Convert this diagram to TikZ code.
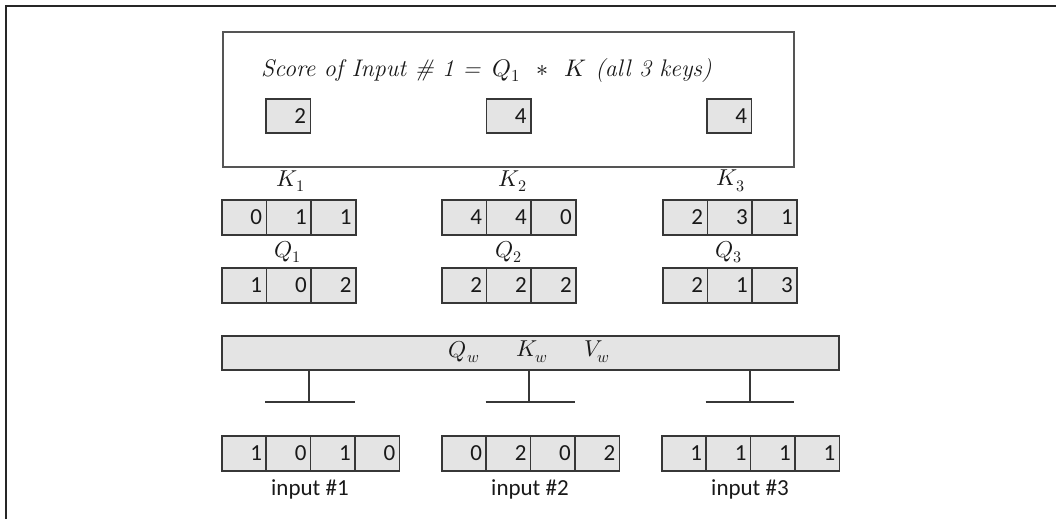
\documentclass[tikz,border=0pt]{standalone}
\usepackage{fontspec}
\usepackage{unicode-math}
\setmathfont{Latin Modern Math}
\newfontfamily\cfont{Carlito}
\definecolor{cellg}{RGB}{228,228,228}
\definecolor{lineg}{RGB}{55,55,55}
\definecolor{boxg}{RGB}{85,85,85}
\definecolor{txtg}{RGB}{25,25,25}
\begin{document}
\begin{tikzpicture}[x=1pt,y=-1pt,
  cell/.style={draw=lineg, line width=1.5pt, fill=cellg, minimum height=35pt,
    text width=36pt, inner xsep=4.3pt, inner ysep=0pt, align=right,
    anchor=north west, text=txtg, font=\cfont\fontsize{23}{23}\selectfont},
  mlab/.style={inner sep=0pt, text=txtg, font=\fontsize{23}{23}\selectfont},
  inlab/.style={inner sep=0pt, text=txtg, font=\cfont\fontsize{23}{23}\selectfont},
  tline/.style={draw=lineg, line width=1.6pt}]
\useasboundingbox (0,0) rectangle (1056,519);
% page frame
\draw[line width=1.6pt, black!85] (6,519) -- (6,6) -- (1056,6);
% score box
\node[draw=boxg, line width=2pt, minimum width=571pt, minimum height=135pt,
  inner sep=0pt, anchor=north west] (scorebox) at (222,31) {};
\node[inner sep=0pt, anchor=base west, text=txtg, font=\fontsize{24}{24}\selectfont]
  (scoretxt) at (261,76)
  {\itshape Score of Input \# 1 = \hspace{4pt}$Q_1$\hspace{16pt}$*$\hspace{16pt}$K$ (all 3 keys)};
\node[cell, minimum height=34pt] (s1) at (265,98) {2};
\node[cell, minimum height=34pt] (s2) at (485.5,98) {4};
\node[cell, minimum height=34pt] (s3) at (706,98) {4};
% K labels and rows
\node[mlab] (klab1) at (291,181) {$K_1$};
\node[mlab] (klab2) at (513,181) {$K_2$};
\node[mlab] (klab3) at (731,181) {$K_3$};
\foreach \v [count=\i] in {0,1,1} \node[cell] (ka\i) at ({221+(\i-1)*44.8},199) {\v};
\foreach \v [count=\i] in {4,4,0} \node[cell] (kb\i) at ({441+(\i-1)*44.8},199) {\v};
\foreach \v [count=\i] in {2,3,1} \node[cell] (kc\i) at ({662+(\i-1)*44.8},199) {\v};
% Q labels and rows
\node[mlab] (qlab1) at (288,252) {$Q_1$};
\node[mlab] (qlab2) at (509,252) {$Q_2$};
\node[mlab] (qlab3) at (729,252) {$Q_3$};
\foreach \v [count=\i] in {1,0,2} \node[cell] (qa\i) at ({221+(\i-1)*44.8},267) {\v};
\foreach \v [count=\i] in {2,2,2} \node[cell] (qb\i) at ({441+(\i-1)*44.8},267) {\v};
\foreach \v [count=\i] in {2,1,3} \node[cell] (qc\i) at ({662+(\i-1)*44.8},267) {\v};
% weight bar
\node[draw=lineg, line width=1.5pt, fill=cellg, minimum width=617pt, minimum height=34pt,
  inner sep=0pt, anchor=north west] (wbar) at (221,335) {};
\node[mlab] (qw) at (464,352) {$Q_w$};
\node[mlab] (kw) at (532,352) {$K_w$};
\node[mlab] (vw) at (597,352) {$V_w$};
% T connectors
\coordinate (t1) at (309,402);  \coordinate (t1l) at (265,402);  \coordinate (t1r) at (355,402);
\coordinate (t2) at (529,402);  \coordinate (t2l) at (485.5,402);\coordinate (t2r) at (574.5,402);
\coordinate (t3) at (750,402);  \coordinate (t3l) at (705.5,402);\coordinate (t3r) at (794,402);
\foreach \t in {1,2,3}{
  \draw[tline] (t\t |- wbar.south) -- (t\t);
  \draw[tline] (t\t l) -- (t\t r);
}
% input rows
\foreach \v [count=\i] in {1,0,1,0} \node[cell] (ia\i) at ({221+(\i-1)*44.4},435) {\v};
\foreach \v [count=\i] in {0,2,0,2} \node[cell] (ib\i) at ({441+(\i-1)*44.4},435) {\v};
\foreach \v [count=\i] in {1,1,1,1} \node[cell] (ic\i) at ({661+(\i-1)*44.4},435) {\v};
\node[inlab] (in1) at (310,489) {input \#1};
\node[inlab] (in2) at (530,489) {input \#2};
\node[inlab] (in3) at (750,489) {input \#3};
\end{tikzpicture}
\end{document}
